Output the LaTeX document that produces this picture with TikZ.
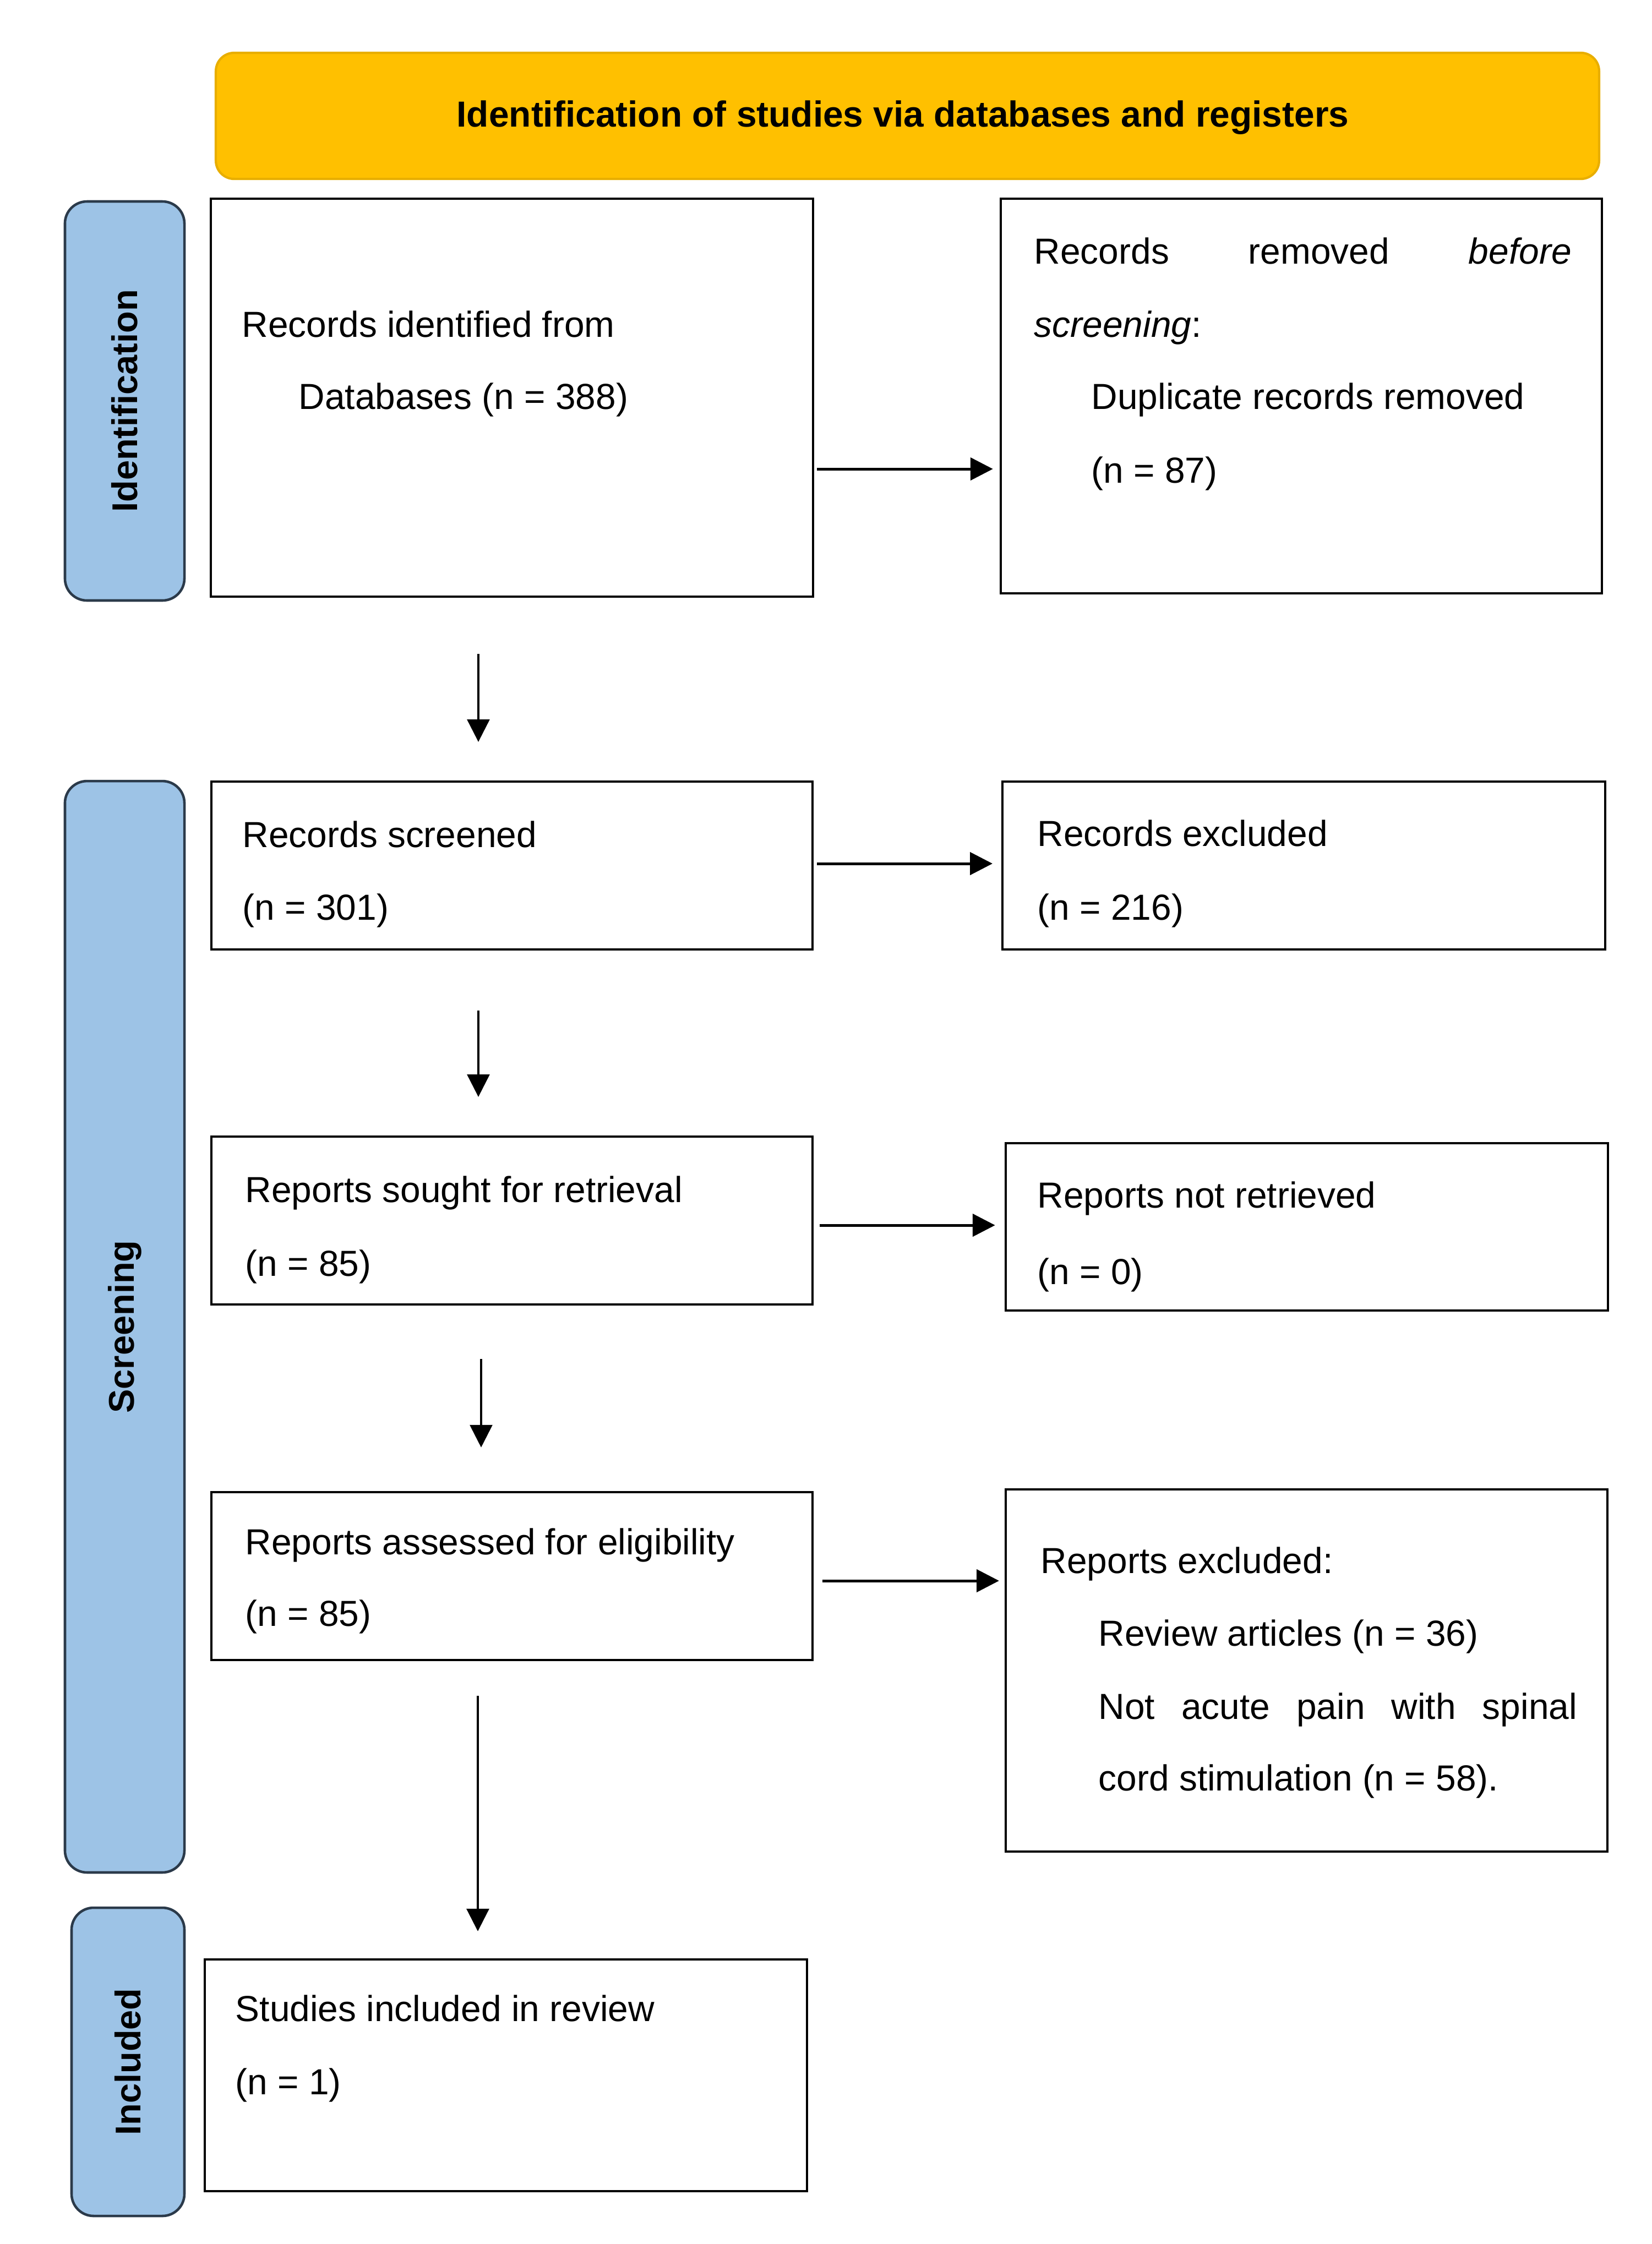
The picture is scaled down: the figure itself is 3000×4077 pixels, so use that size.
\documentclass[tikz,border=0pt]{standalone}
\usepackage{fontspec}
\setmainfont{Liberation Sans}
\usetikzlibrary{arrows.meta}
\definecolor{hdr}{HTML}{FFC000}
\definecolor{hdrline}{HTML}{E8AE00}
\definecolor{lane}{HTML}{9DC3E6}
\definecolor{laneline}{HTML}{2B3A4A}
\begin{document}
\begin{tikzpicture}[x=0.24pt,y=-0.24pt,
  box/.style={draw=black, line width=1.05pt, inner sep=0pt, fill=white},
  lanebox/.style={draw=laneline, fill=lane, line width=1.1pt, rounded corners=9.6pt, inner sep=0pt},
  hdrbox/.style={draw=hdrline, fill=hdr, line width=1pt, rounded corners=8pt, inner sep=0pt},
  txt/.style={anchor=base west, inner sep=0pt, font=\fontsize{15.8}{19}\selectfont},
  hdrtxt/.style={inner sep=0pt, anchor=base, font=\fontsize{15.8}{19}\selectfont\bfseries},
  lanetxt/.style={rotate=90, inner sep=0pt, font=\fontsize{15.6}{19}\selectfont\bfseries},
  harr/.style={-{Triangle[length=9.8pt,width=9.8pt]}, line width=1.2pt},
  varr/.style={-{Triangle[length=9.8pt,width=9.8pt]}, line width=0.75pt},
]
\useasboundingbox (0,0) rectangle (3000,4077);

% header
\node[hdrbox, minimum width=603.1pt, minimum height=55pt] (hdr) at (1648.5,210.5) {};
\node[hdrtxt] (hdrt) at (1640,230) {Identification of studies via databases and registers};

% lanes
\node[lanebox, minimum width=52.1pt, minimum height=174pt] (lid) at (226.5,728.5) {};
\node[lanetxt] (lidt) at (lid.center) {Identification};
\node[lanebox, minimum width=52.1pt, minimum height=475.9pt] (lsc) at (226.5,2410.5) {};
\node[lanetxt] (lsct) at (lsc.center) {Screening};
\node[lanebox, minimum width=49.2pt, minimum height=134.4pt] (lin) at (232.5,3746) {};
\node[lanetxt] (lint) at (lin.center) {Included};

% boxes
\node[box, minimum width=262.6pt, minimum height=173.5pt] (b1) at (930,722.5) {};
\node[box, minimum width=262.1pt, minimum height=172.1pt] (b2) at (2364,719.5) {};
\node[box, minimum width=262.1pt, minimum height=73.2pt] (b3) at (930,1572.5) {};
\node[box, minimum width=262.8pt, minimum height=73.2pt] (b4) at (2368.5,1572.5) {};
\node[box, minimum width=262.1pt, minimum height=73.2pt] (b5) at (930,2217.5) {};
\node[box, minimum width=262.6pt, minimum height=73pt] (b6) at (2374,2229) {};
\node[box, minimum width=262.1pt, minimum height=73.2pt] (b7) at (930,2863.5) {};
\node[box, minimum width=262.3pt, minimum height=157.9pt] (b8) at (2373.5,3035) {};
\node[box, minimum width=262.6pt, minimum height=101pt] (b9) at (919,3770.5) {};

% texts
\node[txt] (t1a) at (439,612) {Records identified from};
\node[txt] (t1b) at (542,743) {Databases (n = 388)};
\node[txt] (t2a) at (1878,479) {\makebox[234.2pt][l]{Records\hfill removed\hfill\textit{before}}};
\node[txt] (t2b) at (1878,612) {\textit{screening}:};
\node[txt] (t2c) at (1982,743) {Duplicate records removed};
\node[txt] (t2d) at (1982,877) {(n = 87)};
\node[txt] (t3a) at (440,1539) {Records screened};
\node[txt] (t3b) at (440,1671) {(n = 301)};
\node[txt] (t4a) at (1884,1537) {Records excluded};
\node[txt] (t4b) at (1884,1671) {(n = 216)};
\node[txt] (t5a) at (445,2184) {Reports sought for retrieval};
\node[txt] (t5b) at (445,2318) {(n = 85)};
\node[txt] (t6a) at (1884,2194) {Reports not retrieved};
\node[txt] (t6b) at (1884,2333) {(n = 0)};
\node[txt] (t7a) at (445,2824) {Reports assessed for eligibility};
\node[txt] (t7b) at (445,2954) {(n = 85)};
\node[txt] (t8a) at (1890,2858) {Reports excluded:};
\node[txt] (t8b) at (1995,2990) {Review articles (n = 36)};
\node[txt] (t8c) at (1995,3123) {\makebox[208.6pt][l]{Not\hfill acute\hfill pain\hfill with\hfill spinal}};
\node[txt] (t8d) at (1995,3253) {cord stimulation (n = 58).};
\node[txt] (t9a) at (427,3672) {Studies included in review};
\node[txt] (t9b) at (427,3805) {(n = 1)};

% helper coordinates for connector rows / columns
\coordinate (r1) at (0,852);
\coordinate (r2) at (0,1569);
\coordinate (r3) at (0,2226);
\coordinate (r4) at (0,2872);
\coordinate (c1) at (869,0);
\coordinate (c2) at (869,0);
\coordinate (c3) at (874,0);
\coordinate (c4) at (868,0);

% horizontal arrows
\draw[harr, shorten <=1.2pt, shorten >=2.9pt] (b1.east |- r1) -- (b2.west |- r1);
\draw[harr, shorten <=1.4pt, shorten >=3.8pt] (b3.east |- r2) -- (b4.west |- r2);
\draw[harr, shorten <=2.6pt, shorten >=4.1pt] (b5.east |- r3) -- (b6.west |- r3);
\draw[harr, shorten <=3.8pt, shorten >=2.4pt] (b7.east |- r4) -- (b8.west |- r4);

% vertical arrows
\draw[varr, shorten <=24.5pt, shorten >=16.8pt] (b1.south -| c1) -- (b3.north -| c1);
\draw[varr, shorten <=26.2pt, shorten >=16.8pt] (b3.south -| c2) -- (b5.north -| c2);
\draw[varr, shorten <=23.3pt, shorten >=19pt] (b5.south -| c3) -- (b7.north -| c3);
\draw[varr, shorten <=15.1pt, shorten >=11.8pt] (b7.south -| c4) -- (b9.north -| c4);
\end{tikzpicture}
\end{document}
